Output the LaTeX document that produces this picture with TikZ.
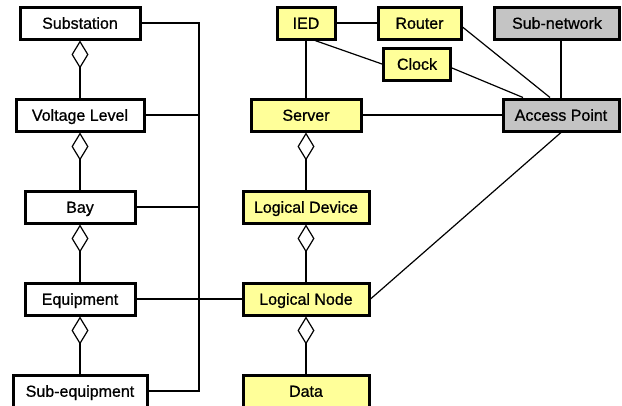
\documentclass[tikz,border=0pt]{standalone}
\usepackage{fontspec}
\setmainfont{Liberation Sans}
\newfontfamily\lbl{Liberation Sans}[FakeBold=0.8]
\usetikzlibrary{arrows.meta,positioning}
\definecolor{ylw}{HTML}{FFFF99}
\definecolor{gry}{HTML}{C4C4C4}

\begin{document}
\begin{tikzpicture}[x=1pt,y=-1pt,node distance=57pt and 40pt,line width=1.2pt,
  every node/.style={font=\lbl\fontsize{16}{19}\selectfont},
  cls/.style={draw,line width=3pt,minimum height=32pt,text height=11.5pt,text depth=0pt,fill=white},
  dev/.style={cls,fill=ylw},
  net/.style={cls,fill=gry},
  has/.style={{Diamond[open,length=28pt,width=17pt]}-}]
\path[fill=white,use as bounding box] (0,0) rectangle (622,405);
% substation side
\node[cls,minimum width=120pt] (subst) at (80,23) {Substation};
\node[cls,minimum width=128pt,below=of subst] (vlevel) {Voltage Level};
\node[cls,minimum width=110pt,below=of vlevel] (bay) {Bay};
\node[cls,minimum width=110pt,below=of bay] (equip) {Equipment};
\node[cls,minimum width=134pt,below=of equip] (subequip) {Sub-equipment};
% communication side
\node[dev,minimum width=58pt] (ied) at (306,23) {IED};
\node[dev,minimum width=83pt,right=of ied] (router) {Router};
\node[dev,minimum width=67pt] (clock) at (417,64) {Clock};
\node[net,minimum width=125pt] (subnet) at (557,23) {Sub-network};
\node[dev,minimum width=110pt,below=of ied] (server) {Server};
\node[net,minimum width=116pt] (ap) at (561,115) {Access Point};
\node[dev,minimum width=126pt,below=of server] (ldev) {Logical Device};
\node[dev,minimum width=126pt,below=of ldev] (lnode) {Logical Node};
\node[dev,minimum width=126pt,below=of lnode] (data) {Data};
% aggregations
\draw[has] (subst.south) -- (vlevel.north);
\draw[has] (vlevel.south) -- (bay.north);
\draw[has] (bay.south) -- (equip.north);
\draw[has] (equip.south) -- (subequip.north);
\draw[has] (server.south) -- (ldev.north);
\draw[has] (ldev.south) -- (lnode.north);
\draw[has] (lnode.south) -- (data.north);
% bus on the left
\coordinate (bus) at (199,0);
\draw (subst.east) -- (subst.east -| bus) -- (subequip.east -| bus) -- (subequip.east);
\draw (vlevel.east) -- (vlevel.east -| bus);
\draw (bay.east) -- (bay.east -| bus);
\draw (equip) -- (lnode);
% links
\draw (ied) -- (router);
\draw (ied) -- (server);
\draw ([xshift=9pt]ied.south) -- (clock.west);
\draw ([yshift=-4pt]router.east) -- ([xshift=-11pt]ap.north);
\draw ([yshift=-4pt]clock.east) -- ([xshift=-38pt]ap.north);
\draw (ap.north |- subnet.south) -- (ap.north);
\draw (server) -- (ap);
\draw (lnode.east) -- (ap.south);
\end{tikzpicture}
\end{document}
